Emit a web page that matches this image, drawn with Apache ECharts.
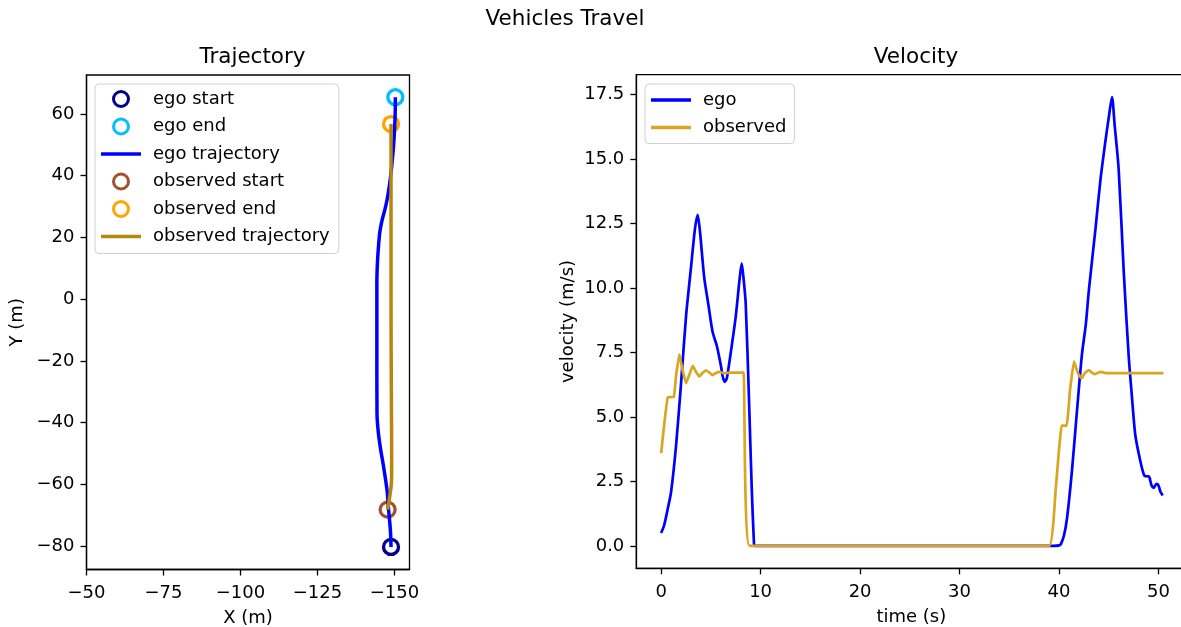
<!DOCTYPE html>
<html>
<head>
<meta charset="utf-8">
<script src="https://cdn.jsdelivr.net/npm/echarts@6/dist/echarts.min.js"></script>
<style>
html,body{margin:0;padding:0;background:#fff;}
#chart{width:1181px;height:627px;}
</style>
</head>
<body>
<div id="chart"></div>
<script>
// ---------- Data ----------
// Trajectory (metres)
const egoX = [-148.9, -148.7, -148.1, -147.6, -146.5, -145.4, -144.7, -144.35, -144.3, -144.3, -144.3, -144.5, -144.9, -145.3, -146.0, -146.9, -147.6, -148.4, -149.0, -149.3, -149.7, -150.1, -150.3, -150.3];
const egoY = [-80.3, -74.9, -68.1, -61.9, -54.4, -47.9, -42.5, -37.0, -20.0, 0.0, 5.0, 12.0, 18.0, 22.0, 25.6, 29.0, 32.1, 37.0, 41.8, 45.0, 49.4, 56.0, 63.4, 65.4];
const obsX = [-147.8, -148.3, -148.9, -149.1, -149.1, -149.0, -148.9, -148.9, -148.9];
const obsY = [-68.2, -65.0, -61.0, -57.0, -50.0, -30.0, 0.0, 30.0, 56.7];

// Velocity (m/s) vs time (s)
const egoTime = [0, 0.3, 0.67, 1.0, 1.5, 2.0, 2.5, 3.0, 3.4, 3.67, 3.9, 4.33, 4.73, 5.17, 5.6, 6.0, 6.2, 6.4, 6.6, 7.0, 7.5, 7.9, 8.1, 8.3, 8.5, 8.83, 9.1, 9.33, 9.4, 20, 30, 39.5, 40.0, 40.2, 40.5, 40.8, 41.3, 41.8, 42.3, 42.7, 43.0, 43.67, 44.17, 44.67, 45.0, 45.33, 45.6, 46.0, 46.5, 47.0, 47.33, 47.67, 48.17, 48.5, 48.67, 49.0, 49.1, 49.3, 49.5, 49.8, 50.0, 50.2, 50.43];
const egoVel  = [0.5, 0.8, 1.45, 2.1, 3.9, 6.3, 8.9, 10.8, 12.3, 12.84, 12.2, 10.4, 9.4, 8.3, 7.75, 7.0, 6.55, 6.36, 6.5, 7.5, 8.9, 10.4, 10.95, 10.3, 9.4, 5.7, 2.3, 0.1, 0.0, 0.0, 0.0, 0.0, 0.02, 0.08, 0.4, 1.05, 2.9, 5.2, 7.4, 8.6, 9.9, 12.3, 14.2, 15.7, 16.6, 17.4, 16.3, 14.6, 10.7, 7.4, 5.8, 4.3, 3.3, 2.8, 2.7, 2.7, 2.65, 2.35, 2.25, 2.4, 2.35, 2.1, 1.95];
const obsTime = [0, 0.67, 1.27, 1.5, 1.83, 2.1, 2.5, 2.8, 3.17, 3.5, 3.83, 4.15, 4.5, 4.85, 5.17, 5.5, 5.83, 6.3, 7.0, 8.27, 8.9, 20, 30, 39.0, 39.67, 40.27, 40.77, 41.1, 41.5, 41.9, 42.27, 42.6, 43.0, 43.3, 43.6, 44.17, 44.7, 50.5];
const obsVel  = [3.6, 5.76, 5.77, 6.6, 7.43, 6.9, 6.31, 6.6, 6.98, 6.75, 6.57, 6.7, 6.81, 6.72, 6.62, 6.7, 6.75, 6.7, 6.72, 6.72, 0.0, 0.0, 0.0, 0.0, 2.2, 4.66, 4.66, 6.0, 7.15, 6.7, 6.49, 6.7, 6.82, 6.72, 6.66, 6.75, 6.7, 6.7];

// Tick labels
const trajXTicks = [-50, -75, -100, -125, -150];
const trajYTicks = [-80, -60, -40, -20, 0, 20, 40, 60];
const velXTicks = [0, 10, 20, 30, 40, 50];
const velYTicks = [0, 2.5, 5, 7.5, 10, 12.5, 15, 17.5];

// ---------- Helpers ----------
const zip = (a, b) => a.map((v, i) => [v, b[i]]);
const minus = v => String(v).replace('-', '\u2212');
const FONT = 'DejaVu Sans';
const axisCommon = {
  axisLine: { show: true, onZero: false, lineStyle: { color: '#000', width: 1.3 } },
  axisTick: { show: true, length: 6, lineStyle: { color: '#000', width: 1.3 } },
  splitLine: { show: false },
  nameLocation: 'middle',
  nameTextStyle: { color: '#000', fontSize: 18, fontFamily: FONT },
};
function axis(extra, ticks, fmt, isY) {
  const a = Object.assign({}, axisCommon, extra);
  a.axisTick = Object.assign({}, axisCommon.axisTick, { customValues: ticks });
  a.axisLabel = { customValues: ticks, color: '#000', fontSize: 18, fontFamily: FONT, margin: isY ? 12 : 15, formatter: fmt };
  if (isY) a.axisLabel.padding = [4, 0, 0, 0];
  return a;
}

const chart = echarts.init(document.getElementById('chart'), null, { renderer: 'canvas' });

const ring = (c) => ({ color: 'rgba(0,0,0,0)', borderColor: c, borderWidth: 3.3, opacity: 1 });
const legendRing = (name, c) => ({ name, icon: 'circle', itemStyle: { color: 'rgba(0,0,0,0)', borderColor: c, borderWidth: 3, opacity: 1 } });
const LINE_ICON = 'path://M0,0L40,0L40,3.6L0,3.6Z';
const legendLine = (name, c) => ({ name, icon: LINE_ICON, itemStyle: { color: c, borderWidth: 0, opacity: 1 } });

const legendCommon = {
  orient: 'vertical', itemWidth: 40, itemHeight: 15, itemGap: 9.5, symbolKeepAspect: true,
  backgroundColor: 'rgba(255,255,255,0.8)', borderColor: '#d0d0d0', borderWidth: 1, borderRadius: 4,
  textStyle: { fontSize: 18, fontFamily: FONT, color: '#000', lineHeight: 18, padding: [0, 0, 0, 7] }
};

const option = {
  backgroundColor: '#fff',
  animation: false,
  title: [
    { text: 'Vehicles Travel', left: 560, top: 3, textAlign: 'center', textStyle: { fontSize: 21.5, fontWeight: 'normal', color: '#000', fontFamily: FONT } },
    { text: 'Trajectory', left: 247.5, top: 41, textAlign: 'center', textStyle: { fontSize: 21.5, fontWeight: 'normal', color: '#000', fontFamily: FONT } },
    { text: 'Velocity', left: 911, top: 41, textAlign: 'center', textStyle: { fontSize: 21.5, fontWeight: 'normal', color: '#000', fontFamily: FONT } }
  ],
  legend: [
    Object.assign({}, legendCommon, {
      left: 95, top: 84, padding: [6, 9, 8, 6],
      data: [
        legendRing('ego start', '#00008B'),
        legendRing('ego end', '#00BFFF'),
        legendLine('ego trajectory', '#0000FF'),
        legendRing('observed start', '#A0522D'),
        legendRing('observed end', '#FFA500'),
        legendLine('observed trajectory', '#B8860B')
      ]
    }),
    Object.assign({}, legendCommon, {
      left: 645, top: 84, padding: [7, 8, 7, 6],
      data: [legendLine('ego', '#0000FF'), legendLine('observed', '#DAA520')]
    })
  ],
  grid: [
    { left: 86.5, top: 75, width: 323, height: 494.5, show: true, borderColor: '#000', borderWidth: 1.3, backgroundColor: 'transparent', outerBoundsMode: 'none', containLabel: false },
    { left: 636.3, top: 74.7, width: 550, height: 493.6, show: true, borderColor: '#000', borderWidth: 1.3, backgroundColor: 'transparent', outerBoundsMode: 'none', containLabel: false }
  ],
  xAxis: [
    axis({ type: 'value', gridIndex: 0, min: -154.9, max: -50, inverse: true, name: 'X (m)', nameGap: 40 }, trajXTicks, minus, false),
    axis({ type: 'value', gridIndex: 1, min: -2.5, max: 52.8, name: 'time (s)', nameGap: 40 }, velXTicks, v => String(v), false)
  ],
  yAxis: [
    axis({ type: 'value', gridIndex: 0, min: -87.6, max: 72.6, name: 'Y (m)', nameGap: 60 }, trajYTicks, minus, true),
    axis({ type: 'value', gridIndex: 1, min: -0.87, max: 18.27, name: 'velocity (m/s)', nameGap: 59 }, velYTicks, v => Number(v).toFixed(1), true)
  ],
  series: [
    { name: 'ego start', type: 'scatter', xAxisIndex: 0, yAxisIndex: 0, symbol: 'circle', symbolSize: 15,
      data: [[egoX[0], egoY[0]]], itemStyle: ring('#00008B') },
    { name: 'ego end', type: 'scatter', xAxisIndex: 0, yAxisIndex: 0, symbol: 'circle', symbolSize: 15,
      data: [[egoX[egoX.length - 1], egoY[egoY.length - 1]]], itemStyle: ring('#00BFFF') },
    { name: 'ego trajectory', type: 'line', xAxisIndex: 0, yAxisIndex: 0, symbol: 'none', smooth: 0.3,
      data: zip(egoX, egoY), lineStyle: { color: '#0000FF', width: 3.5 }, itemStyle: { color: '#0000FF' } },
    { name: 'observed start', type: 'scatter', xAxisIndex: 0, yAxisIndex: 0, symbol: 'circle', symbolSize: 15,
      data: [[obsX[0], obsY[0]]], itemStyle: ring('#A0522D') },
    { name: 'observed end', type: 'scatter', xAxisIndex: 0, yAxisIndex: 0, symbol: 'circle', symbolSize: 15,
      data: [[obsX[obsX.length - 1], obsY[obsY.length - 1]]], itemStyle: ring('#FFA500') },
    { name: 'observed trajectory', type: 'line', xAxisIndex: 0, yAxisIndex: 0, symbol: 'none', smooth: 0.3,
      data: zip(obsX, obsY), lineStyle: { color: '#B8860B', width: 3.5 }, itemStyle: { color: '#B8860B' } },
    { name: 'ego', type: 'line', xAxisIndex: 1, yAxisIndex: 1, symbol: 'none', smooth: 0.25,
      data: zip(egoTime, egoVel), lineStyle: { color: '#0000FF', width: 2.7 }, itemStyle: { color: '#0000FF' } },
    { name: 'observed', type: 'line', xAxisIndex: 1, yAxisIndex: 1, symbol: 'none', smooth: 0.1,
      data: zip(obsTime, obsVel), lineStyle: { color: '#DAA520', width: 2.7 }, itemStyle: { color: '#DAA520' } }
  ]
};
chart.setOption(option);
</script>
</body>
</html>
